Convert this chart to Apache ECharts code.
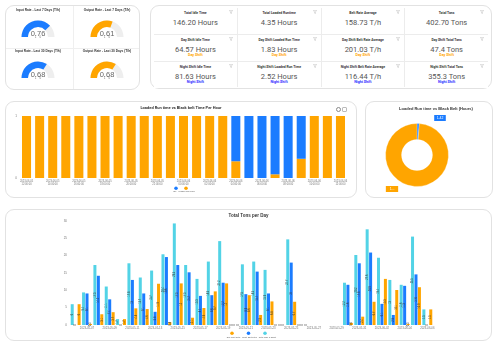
<!DOCTYPE html>
<html>
<head>
<meta charset="utf-8">
<script src="https://cdn.jsdelivr.net/npm/echarts@6/dist/echarts.min.js"></script>
<style>
html,body{margin:0;padding:0}
body{width:500px;height:350px;background:#fff;position:relative;overflow:hidden;font-family:Roboto,"Noto Sans",sans-serif}
.card{position:absolute;box-sizing:border-box;border:1px solid #e2e2e2;border-radius:9px;background:#fff}
.vline{position:absolute;top:0;bottom:0;width:1px;background:#efefef}
.hline{position:absolute;left:0;right:0;height:1px;background:#efefef}
#kpiGrid{position:absolute;left:3px;top:2px;width:334px;height:79px;display:grid;grid-template-columns:repeat(4,1fr);grid-template-rows:26px 26px 26px;gap:1px;background:#ececec}
.cell{background:#fff;position:relative;text-align:center}
.cell .t{position:absolute;left:0;right:0;top:3px;font-size:3.4px;line-height:4px;font-weight:700;color:#333}
.cell .v{position:absolute;left:0;right:0;top:10px;font-size:7.5px;line-height:9px;color:#555}
.cell .s{position:absolute;left:0;right:0;top:18px;font-size:3.6px;line-height:4px;font-weight:700}
.cell svg{position:absolute;right:4px;top:2px;width:4px;height:4px}
.chart{position:absolute;left:0;top:0}
.tool{position:absolute;top:5px;width:3px;height:3px;border:0.6px solid #888;border-radius:1px}
.ctitle{position:absolute;left:0;right:0;top:4px;text-align:center;font-size:4px;line-height:4px;font-weight:700;color:#333}
</style>
</head>
<body>
<div class="card" style="left:5px;top:5px;width:135px;height:85px">
  <div class="vline" style="left:67px"></div>
  <div class="hline" style="top:42px"></div>
  <div id="gauges" class="chart" style="width:133px;height:83px"></div>
</div>
<div class="card" style="left:150px;top:5px;width:342px;height:84px">
  <div id="kpiGrid"></div>
</div>
<div class="card" style="left:5px;top:101px;width:352px;height:97px">
  <div id="hourly" class="chart" style="width:350px;height:95px"></div>
  <div class="ctitle">Loaded Run time vs Black belt Time Per Hour</div>
  <div class="tool" style="left:330px;border-radius:50%"></div>
  <div class="tool" style="left:336px;border-color:#bbb"></div>
</div>
<div class="card" style="left:365px;top:101px;width:128px;height:97px">
  <div id="donut" class="chart" style="width:126px;height:95px"></div>
</div>
<div class="card" style="left:5px;top:209px;width:487px;height:132px">
  <div id="daily" class="chart" style="width:485px;height:130px"></div>
</div>
<script>
var BLUE = '#1b7cff', ORANGE = '#ffa500', CYAN = '#52d3e6';

// gauges
var gaugeNames = ['Input Rate - Last 7 Days (T/h)', 'Output Rate - Last 7 Days (T/h)', 'Input Rate - Last 30 Days (T/h)', 'Output Rate - Last 30 Days (T/h)'];
var gaugeValues = [0.76, 0.61, 0.68, 0.68];

// kpi tiles
var kpiTitles = [
  'Total Idle Time', 'Total Loaded Runtime', 'Belt Rate Average', 'Total Tons',
  'Day Shift Idle Time', 'Day Shift Loaded Run Time', 'Day Shift Belt Rate Average', 'Day Shift Total Tons',
  'Night Shift Idle Time', 'Night Shift Loaded Run Time', 'Night Shift Belt Rate Average', 'Night Shift Total Tons'
];
var kpiValues = [
  '146.20 Hours', '4.35 Hours', '158.73 T/h', '402.70 Tons',
  '64.57 Hours', '1.83 Hours', '201.03 T/h', '47.4 Tons',
  '81.63 Hours', '2.52 Hours', '116.44 T/h', '355.3 Tons'
];
var rowShift = ['', 'Day Shift', 'Night Shift'];

// hourly stacked bars
var hours = [];
var hourLabels = ['12:00:00','13:00:00','14:00:00','15:00:00','16:00:00','17:00:00','18:00:00','19:00:00','20:00:00','21:00:00','22:00:00','23:00:00'];
var hourLabels2 = ['00:00:00','01:00:00','02:00:00','03:00:00','04:00:00','05:00:00','06:00:00','07:00:00','08:00:00','09:00:00','10:00:00','11:00:00','12:00:00'];
hourLabels.forEach(function (h) { hours.push('2023-06-05\n' + h); });
hourLabels2.forEach(function (h) { hours.push('2023-06-06\n' + h); });
var loadedRun = [1,1,1,1,1,1,1,1,1,1,1,1,1,1,1,1,0.27,0,0,0.06,0,0.31,1,1,1];
var idle =      [0,0,0,0,0,0,0,0,0,0,0,0,0,0,0,0,0.73,1,1,0.94,1,0.69,0,0,0];

// donut
var donutNames = ['Idle', 'Loaded Run Time'];
var donutValues = [1.42, 121.14];

// daily tons
var days = ['2023-05-06','2023-05-07','2023-05-08','2023-05-09','2023-05-10','2023-05-11','2023-05-12','2023-05-13',
  '2023-05-14','2023-05-15','2023-05-16','2023-05-17','2023-05-18','2023-05-19','2023-05-20','2023-05-21',
  '2023-05-22','2023-05-23','2023-05-24','2023-05-25','2023-05-26','2023-05-27','2023-05-28','2023-05-29',
  '2023-05-30','2023-05-31','2023-06-01','2023-06-02','2023-06-03','2023-06-04','2023-06-05','2023-06-06'];
var totalTons = [6.0,9.4,17.3,11.1,1.7,17.8,13.7,15.7,20.4,29.3,17.3,13.3,18.3,24.2,0,17.5,
  18.3,15.9,0,24.7,0,'-','-','-',12.2,20.2,27.6,19.4,13.0,11.6,25.5,4.5];
var nightTons = [0,9.1,14.2,7.4,0,13.0,9.1,3.8,19.6,17.3,15.2,8.4,8.6,12.2,0,8.9,
  15.4,9.1,0,18.0,0,'-','-','-',11.6,17.8,20.9,6.1,2.9,11.3,14.6,0];
var dayTons = [6.0,0.3,3.1,3.7,1.7,4.8,4.6,11.9,0.8,12.0,2.1,4.9,9.7,12.0,0,8.6,
  2.9,6.8,0,6.7,0,'-','-','-',0.6,2.4,6.7,13.3,10.1,0.3,10.9,4.5];
var tonTicks = { min: 0, max: 30, interval: 5 };

// ---- kpi grid
var funnel = '<svg viewBox="0 0 10 10"><path d="M1 1h8L6 5v4L4 8V5z" fill="none" stroke="#999" stroke-width="0.8"/></svg>';
var html = '';
for (var i = 0; i < kpiTitles.length; i++) {
  var r = Math.floor(i / 4);
  html += '<div class="cell">' + funnel + '<div class="t">' + kpiTitles[i] + '</div><div class="v">' + kpiValues[i] + '</div>';
  if (r > 0) html += '<div class="s" style="color:' + (r == 1 ? ORANGE : '#2a2aff') + '">' + rowShift[r] + '</div>';
  html += '</div>';
}
document.getElementById('kpiGrid').innerHTML = html;

// ---- gauges
var centers = [[32, 31], [101, 31], [32, 72], [101, 72]];
var gaugeColors = [BLUE, ORANGE, BLUE, ORANGE];
var gaugeChart = echarts.init(document.getElementById('gauges'));
gaugeChart.setOption({
  animation: false,
  series: gaugeValues.map(function (v, i) {
    return {
      type: 'gauge', center: centers[i], radius: 16.5,
      startAngle: 180, endAngle: 0, min: 0, max: 1, splitNumber: 1,
      progress: { show: true, width: 6.5, itemStyle: { color: gaugeColors[i] } },
      axisLine: { lineStyle: { width: 6.5, color: [[1, '#eeeeee']] } },
      pointer: { show: false }, anchor: { show: false },
      axisTick: { show: false }, splitLine: { show: false },
      axisLabel: { distance: -2, fontSize: 3, color: '#777', padding: [7, 0, 0, 0] },
      title: { offsetCenter: [0, -27], fontSize: 3.2, color: '#333', fontWeight: 'bold' },
      detail: { offsetCenter: [0, -3], fontSize: 7.5, fontWeight: 'normal', color: '#666',
        formatter: function (x) { return x.toFixed(2); } },
      data: [{ value: v, name: gaugeNames[i] }]
    };
  })
});

// two legends: round icons on one row, names centred on the row below
function iconLegend(names, top, gap) {
  return { top: top, left: 'center', padding: 0, data: names, icon: 'circle', itemWidth: 3.5, itemHeight: 3.5, itemGap: gap,
    formatter: function () { return ''; }, textStyle: { fontSize: 2 } };
}
function nameLegend(names, top) {
  return { top: top, left: 'center', padding: 0, data: names, icon: 'rect', itemWidth: 1, itemHeight: 1, itemGap: -4,
    itemStyle: { opacity: 0 }, textStyle: { fontSize: 2.1, color: '#555' } };
}
function smallTitle(text, top, size) {
  return { text: text, left: 'center', top: top, padding: 0, textStyle: { fontSize: size, fontWeight: 'bold', color: '#333' } };
}

// ---- hourly stacked
var hourly = echarts.init(document.getElementById('hourly'));
hourly.setOption({
  animation: false,
  legend: [iconLegend(['Idle', 'Loaded Run Time'], 84.5, 6.5), nameLegend(['Idle', 'Loaded Run Time'], 88.5)],
  grid: { left: 14, right: 9, top: 14, bottom: 19 },
  xAxis: { type: 'category', data: hours, axisLine: { show: false }, axisTick: { show: false },
    axisLabel: { interval: 1, fontSize: 2.6, lineHeight: 3, color: '#777', margin: 2 } },
  yAxis: { type: 'value', min: 0, max: 1, interval: 1, splitLine: { show: false },
    axisLabel: { fontSize: 3, color: '#777', margin: 3 } },
  series: [
    { name: 'Loaded Run Time', type: 'bar', stack: 'h', data: loadedRun, barCategoryGap: '31%', itemStyle: { color: ORANGE } },
    { name: 'Idle', type: 'bar', stack: 'h', data: idle, itemStyle: { color: BLUE } }
  ]
});

// ---- donut
var labelSpots = [[74, 16], [26, 87]];
var donut = echarts.init(document.getElementById('donut'));
var donutTitle = smallTitle('Loaded Run time vs Black Belt (Hours)', 5, 4);
donutTitle.left = 70; donutTitle.textAlign = 'center';
donut.setOption({
  animation: false,
  title: donutTitle,
  series: [{
    type: 'pie', center: [51, 53], radius: [15.5, 31.5],
    itemStyle: { borderColor: '#fff', borderWidth: 0.3 },
    label: { show: true, color: '#fff', fontSize: 3.4, padding: [1.5, 2.5], formatter: '{c}' },
    labelLine: { show: false },
    labelLayout: function (p) {
      return { x: labelSpots[p.dataIndex][0], y: labelSpots[p.dataIndex][1], align: 'center', verticalAlign: 'middle' };
    },
    data: donutValues.map(function (v, i) {
      var c = i == 0 ? BLUE : ORANGE;
      return { value: v, name: donutNames[i], itemStyle: { color: c }, label: { backgroundColor: c } };
    })
  }]
});

// ---- daily tons
var barLabel = { show: true, position: 'inside', rotate: 90, fontSize: 2.6, color: '#333' };
var dailyNames = ['Day Shift Total', 'Night Shift Total', 'Total (Day & Night)'];
var daily = echarts.init(document.getElementById('daily'));
daily.setOption({
  animation: false,
  title: smallTitle('Total Tons per Day', 3, 4.5),
  legend: [iconLegend(dailyNames, 121.5, 13), nameLegend(dailyNames, 126.3)],
  grid: { left: 64, right: 58, top: 11, bottom: 15 },
  xAxis: { type: 'category', data: days, axisLine: { show: false }, axisTick: { show: false },
    axisLabel: { interval: function (i) { return i % 2 == 1; }, fontSize: 2.8, color: '#777', margin: 2 } },
  yAxis: { type: 'value', min: tonTicks.min, max: tonTicks.max, interval: tonTicks.interval, splitLine: { show: false },
    axisLabel: { fontSize: 3, color: '#777', margin: 3 } },
  series: [
    { name: 'Total (Day & Night)', type: 'bar', data: totalTons, barWidth: 3, barGap: '15%', itemStyle: { color: CYAN }, label: barLabel },
    { name: 'Night Shift Total', type: 'bar', data: nightTons, barWidth: 3, itemStyle: { color: BLUE }, label: barLabel },
    { name: 'Day Shift Total', type: 'bar', data: dayTons, barWidth: 3, itemStyle: { color: ORANGE }, label: barLabel }
  ]
});
</script>
</body>
</html>
